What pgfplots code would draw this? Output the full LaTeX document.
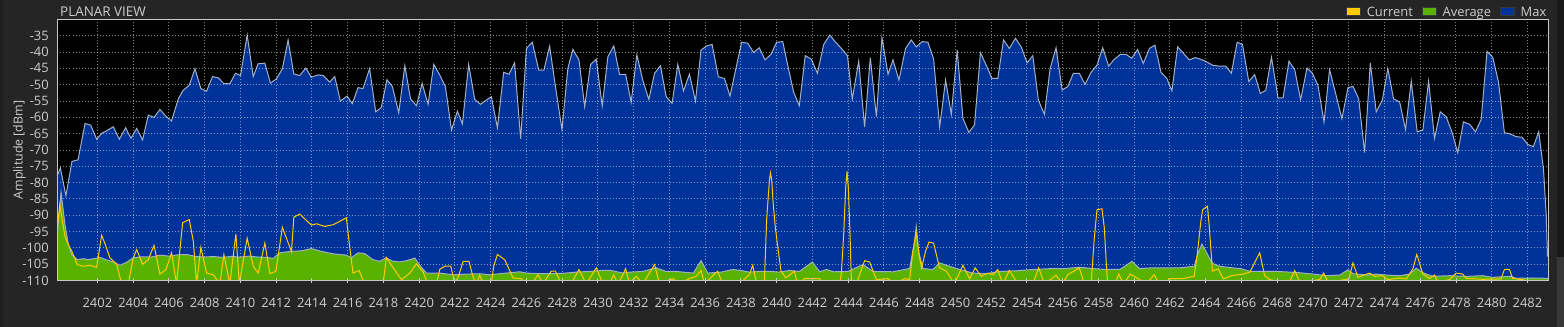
\documentclass[border=0pt]{standalone}
\usepackage{pgfplots}
\usepackage{pgfplotstable}
\pgfplotsset{compat=1.18}
\usepackage{fontspec}
\setmainfont{Open Sans}
\definecolor{bgc}{RGB}{37,37,37}
\definecolor{maxblue}{RGB}{0,51,153}
\definecolor{avggreen}{RGB}{90,178,0}
\definecolor{curyellow}{RGB}{255,204,0}
\definecolor{outl}{RGB}{165,175,195}
\definecolor{txt}{RGB}{205,205,205}
\definecolor{framec}{RGB}{200,200,200}

\pgfplotsset{
  myaxis/.style={
    at={(57.5bp,46.4bp)}, anchor=south west,
    scale only axis, width=1490.8bp, height=261.2bp,
    xmin=2399.77, xmax=2483.17, ymin=-110, ymax=-30,
    xtick={2402,2404,...,2482},
    ytick={-110,-105,...,-35},
  },
  legbox/.style={legend image code/.code={
    \filldraw[draw=black!55!gray, fill=#1, line width=0.8bp] (0bp,-3.4bp) rectangle (14bp,5.2bp);
    \path (18bp,0bp);}},
}

\pgfplotstableread{
f v
2399.60 -120
2399.60 -80
2399.93 -75.5
2400.24 -84.0
2400.58 -73.5
2400.92 -73.0
2401.31 -61.9
2401.63 -62.4
2401.96 -66.7
2402.24 -64.9
2402.52 -64.1
2402.89 -62.9
2403.23 -66.7
2403.58 -63.2
2403.88 -66.4
2404.20 -63.4
2404.53 -66.9
2404.85 -59.3
2405.17 -60.0
2405.50 -57.6
2405.82 -59.6
2406.15 -61.1
2406.53 -54.3
2406.80 -51.7
2407.14 -50.2
2407.46 -45.1
2407.79 -51.2
2408.11 -52.0
2408.44 -47.5
2408.76 -47.9
2409.08 -49.7
2409.41 -49.7
2409.73 -46.5
2410.01 -47.2
2410.38 -34.8
2410.72 -47.5
2410.99 -43.6
2411.37 -43.4
2411.68 -49.5
2412.02 -48.2
2412.35 -45.1
2412.67 -36.3
2412.99 -46.7
2413.32 -47.2
2413.66 -44.9
2413.97 -47.7
2414.35 -47.0
2414.63 -47.2
2415.00 -49.2
2415.28 -47.5
2415.59 -55.0
2415.97 -53.5
2416.26 -55.8
2416.58 -50.9
2416.86 -51.2
2417.23 -45.1
2417.57 -58.3
2417.88 -57.0
2418.20 -48.5
2418.50 -50.5
2418.86 -58.6
2419.20 -44.2
2419.52 -54.4
2419.85 -56.4
2420.17 -49.6
2420.50 -56.0
2420.82 -43.8
2421.15 -47.0
2421.47 -50.6
2421.81 -63.9
2422.14 -58.1
2422.42 -62.0
2422.77 -43.8
2423.11 -54.5
2423.43 -56.0
2423.76 -54.7
2424.04 -53.7
2424.38 -63.2
2424.73 -46.2
2425.03 -46.8
2425.34 -43.3
2425.68 -66.6
2426.00 -38.9
2426.33 -37.0
2426.69 -45.5
2426.98 -45.5
2427.30 -38.2
2427.64 -51.1
2427.99 -63.7
2428.32 -45.0
2428.60 -39.2
2428.94 -42.4
2429.26 -56.7
2429.59 -43.8
2429.91 -42.2
2430.24 -56.5
2430.56 -41.4
2430.89 -38.1
2431.21 -46.8
2431.55 -46.8
2431.86 -55.4
2432.18 -40.9
2432.51 -48.6
2432.85 -54.5
2433.17 -46.5
2433.50 -44.2
2433.82 -53.7
2434.15 -55.7
2434.47 -43.8
2434.79 -51.9
2435.12 -46.8
2435.46 -55.0
2435.77 -39.4
2436.09 -38.1
2436.39 -37.7
2436.74 -47.6
2437.08 -48.1
2437.39 -53.5
2437.73 -44.8
2438.04 -37.0
2438.38 -37.3
2438.71 -40.1
2439.03 -38.7
2439.35 -42.4
2439.68 -40.7
2440.00 -37.0
2440.34 -36.8
2440.65 -44.8
2440.95 -52.3
2441.27 -56.4
2441.60 -41.1
2441.94 -42.2
2442.28 -46.5
2442.63 -37.7
2442.97 -34.8
2443.30 -37.0
2443.62 -38.9
2443.96 -41.1
2444.23 -54.4
2444.59 -42.8
2444.92 -62.9
2445.24 -41.7
2445.58 -59.8
2445.89 -35.6
2446.23 -46.8
2446.51 -42.4
2446.84 -48.6
2447.21 -38.9
2447.53 -36.3
2447.81 -38.4
2448.15 -36.8
2448.46 -37.0
2448.78 -42.1
2449.12 -62.9
2449.45 -48.6
2449.77 -59.1
2450.10 -39.4
2450.42 -60.3
2450.75 -64.6
2451.07 -62.3
2451.40 -40.2
2451.72 -44.0
2452.04 -48.1
2452.37 -48.1
2452.69 -36.3
2453.02 -38.9
2453.36 -35.8
2453.68 -38.4
2454.01 -43.3
2454.33 -41.1
2454.64 -54.7
2454.98 -59.1
2455.30 -45.0
2455.63 -38.7
2455.97 -51.6
2456.28 -50.6
2456.60 -46.5
2456.93 -46.5
2457.25 -49.9
2457.59 -46.2
2457.92 -44.0
2458.24 -38.7
2458.57 -44.3
2458.89 -42.2
2459.23 -40.7
2459.54 -40.7
2459.86 -41.9
2460.19 -39.2
2460.51 -43.5
2460.85 -38.9
2461.16 -37.9
2461.50 -46.2
2461.83 -48.1
2462.11 -51.9
2462.43 -38.4
2462.76 -40.4
2463.08 -42.4
2463.42 -41.7
2463.73 -42.2
2464.05 -43.0
2464.38 -44.0
2464.70 -44.3
2465.12 -44.3
2465.44 -46.5
2465.76 -37.0
2466.06 -37.7
2466.41 -49.0
2466.74 -46.9
2467.06 -52.7
2467.36 -51.7
2467.68 -41.6
2468.05 -54.1
2468.33 -54.0
2468.66 -42.8
2468.98 -45.4
2469.31 -54.6
2469.67 -44.9
2469.97 -46.5
2470.28 -50.2
2470.62 -61.4
2470.93 -45.4
2471.27 -52.7
2471.62 -60.4
2471.96 -50.9
2472.24 -50.5
2472.56 -54.3
2472.89 -70.8
2473.21 -43.4
2473.54 -58.3
2473.88 -54.8
2474.19 -45.1
2474.51 -54.3
2474.85 -55.3
2475.18 -63.7
2475.50 -48.9
2475.83 -64.4
2476.15 -63.9
2476.47 -48.9
2476.80 -66.4
2477.12 -58.3
2477.45 -59.8
2477.77 -64.4
2478.10 -70.8
2478.42 -61.4
2478.76 -62.1
2479.09 -64.4
2479.41 -60.7
2479.74 -39.8
2480.06 -41.6
2480.38 -49.2
2480.71 -64.7
2481.05 -65.1
2481.36 -65.9
2481.70 -66.1
2482.02 -68.3
2482.33 -69.0
2482.63 -64.4
2482.90 -76.0
2483.05 -90.0
2483.12 -102.5
2483.40 -102.5
2483.40 -120
}\maxdata

\pgfplotstableread{
f v
2399.60 -120
2399.60 -96
2399.77 -95
2399.97 -83.0
2400.19 -92.9
2400.38 -99.0
2400.57 -102.0
2400.88 -103.6
2401.22 -103.3
2401.50 -103.6
2401.78 -103.3
2402.15 -102.9
2402.48 -103.6
2402.80 -104.1
2403.27 -105.3
2403.60 -104.5
2404.01 -103.0
2404.50 -102.7
2405.00 -102.8
2405.50 -102.2
2406.00 -102.5
2406.50 -102.1
2406.99 -102.0
2407.50 -102.6
2408.00 -102.8
2408.48 -102.6
2409.00 -102.9
2409.50 -102.6
2409.97 -102.8
2410.50 -102.5
2411.00 -102.8
2411.50 -102.9
2411.83 -103.2
2412.20 -101.5
2412.86 -101.0
2413.40 -100.9
2413.97 -100.2
2414.50 -101.0
2415.18 -101.8
2415.93 -102.2
2416.21 -103.0
2416.58 -101.5
2416.95 -101.7
2417.42 -103.6
2417.79 -104.1
2418.16 -103.0
2418.50 -104.0
2418.91 -104.3
2419.30 -103.9
2419.76 -103.1
2420.00 -105.1
2420.41 -107.7
2421.15 -107.7
2421.90 -108.2
2422.70 -108.0
2423.39 -107.9
2423.95 -108.2
2424.69 -107.8
2425.62 -107.3
2426.00 -107.7
2426.80 -107.9
2428.00 -107.8
2428.79 -107.4
2429.50 -107.2
2430.28 -106.9
2430.74 -106.9
2431.40 -107.7
2431.77 -107.4
2432.51 -107.2
2433.26 -106.1
2433.82 -107.2
2434.38 -107.2
2435.34 -107.7
2435.77 -103.9
2436.15 -107.7
2436.90 -107.4
2437.54 -106.6
2438.00 -106.9
2438.47 -107.4
2439.00 -107.2
2439.70 -107.2
2440.10 -107.4
2440.71 -106.9
2441.27 -107.2
2442.00 -104.3
2442.41 -107.3
2442.78 -106.6
2443.20 -107.3
2443.99 -107.2
2444.83 -105.1
2445.39 -107.2
2446.51 -107.3
2447.44 -106.3
2447.72 -98.0
2447.81 -93.5
2447.94 -101.0
2448.18 -106.3
2448.74 -106.6
2449.12 -104.6
2449.67 -105.6
2450.23 -106.6
2450.98 -107.7
2451.70 -107.9
2452.47 -107.2
2453.40 -107.0
2454.33 -106.6
2455.45 -106.3
2456.20 -106.3
2456.93 -105.9
2457.68 -106.3
2458.40 -106.6
2459.20 -106.6
2459.88 -104.1
2460.29 -106.3
2461.00 -106.1
2461.78 -106.1
2462.52 -106.1
2463.36 -105.6
2463.55 -102.0
2463.79 -98.8
2464.04 -101.3
2464.29 -104.0
2464.42 -104.8
2464.79 -105.6
2465.20 -105.9
2466.00 -106.4
2466.50 -107.2
2467.40 -107.2
2468.00 -107.2
2468.70 -107.4
2469.26 -107.6
2470.00 -108.0
2470.75 -108.5
2471.50 -108.3
2471.96 -106.7
2472.25 -107.9
2473.00 -108.3
2473.54 -108.0
2474.10 -108.3
2474.85 -108.5
2475.40 -108.0
2475.78 -106.2
2476.15 -107.6
2476.70 -108.7
2477.65 -108.5
2478.60 -108.7
2479.50 -108.5
2480.06 -109.0
2481.08 -108.7
2481.36 -109.3
2482.30 -109.2
2483.04 -109.3
2483.40 -109.3
2483.40 -120
}\avgdata

\pgfplotstableread{
f v
2399.77 -93.0
2399.90 -86.7
2400.05 -92.0
2400.19 -96.4
2400.38 -99.0
2400.57 -101.0
2400.88 -105.1
2401.22 -105.6
2401.59 -105.3
2401.96 -106.0
2402.24 -96.1
2402.48 -99.5
2402.70 -103.0
2403.08 -105.0
2403.36 -111
2403.73 -111
2404.01 -103.0
2404.20 -100.5
2404.53 -105.0
2404.85 -103.6
2405.17 -99.2
2405.50 -108.0
2405.84 -106.6
2406.15 -101.5
2406.43 -111
2406.77 -92.3
2407.14 -91.3
2407.37 -98.0
2407.55 -111
2407.79 -99.8
2408.11 -107.7
2408.48 -108.2
2408.85 -111
2409.08 -102.0
2409.41 -111
2409.75 -95.7
2409.94 -111
2410.38 -97.0
2410.72 -105.6
2411.00 -107.7
2411.37 -98.5
2411.65 -107.9
2411.99 -107.1
2412.35 -93.7
2412.63 -97.8
2412.86 -101.1
2412.99 -90.6
2413.32 -89.6
2413.97 -93.0
2414.26 -92.6
2414.72 -93.4
2415.18 -92.9
2415.93 -90.8
2416.08 -98.0
2416.30 -107.7
2416.64 -106.9
2416.95 -111
2417.70 -111
2418.00 -110.5
2418.16 -102.9
2418.36 -104.6
2419.01 -109.7
2419.48 -107.7
2419.85 -104.9
2420.22 -107.3
2420.41 -110.0
2420.97 -111
2421.15 -106.6
2421.43 -105.6
2421.77 -105.6
2422.00 -111
2422.23 -108.2
2422.46 -104.1
2422.79 -104.1
2422.98 -108.2
2423.17 -111
2423.39 -108.4
2423.61 -111
2424.04 -111
2424.17 -105.6
2424.38 -102.0
2424.79 -103.6
2425.25 -109.2
2425.72 -109.4
2426.00 -111
2426.30 -111
2426.65 -108.2
2426.93 -111
2427.39 -107.1
2427.62 -107.1
2427.95 -111
2428.50 -111
2428.94 -106.6
2429.35 -111
2429.91 -106.1
2430.28 -111
2430.65 -111
2430.88 -108.2
2431.12 -111
2431.40 -108.2
2431.55 -106.3
2431.77 -111
2432.14 -108.7
2432.51 -111
2433.17 -105.1
2433.45 -111
2434.19 -109.4
2434.56 -111
2435.12 -109.4
2435.49 -108.7
2435.77 -106.9
2435.96 -111
2436.70 -107.1
2436.98 -111
2437.91 -111
2438.47 -108.2
2438.66 -105.3
2438.88 -111
2439.31 -111
2439.44 -91.3
2439.59 -79.6
2439.65 -77.0
2439.72 -79.0
2439.81 -86.7
2439.93 -93.9
2440.06 -99.5
2440.24 -107.1
2440.52 -109.2
2440.99 -107.1
2441.17 -111
2441.57 -109.4
2442.41 -109.4
2442.60 -111
2443.53 -111
2443.62 -107.7
2443.75 -95.9
2443.86 -81.6
2443.94 -76.5
2444.01 -81.6
2444.09 -93.4
2444.18 -109.7
2444.46 -111
2444.92 -103.9
2445.20 -104.3
2445.58 -109.7
2446.23 -109.4
2446.60 -111
2447.16 -109.4
2447.44 -109.7
2447.62 -101.0
2447.81 -95.1
2447.96 -102.0
2448.11 -106.1
2448.33 -101.0
2448.52 -98.2
2448.78 -98.5
2448.96 -102.6
2449.11 -106.1
2449.49 -107.1
2449.95 -111
2450.42 -105.3
2450.79 -109.4
2451.11 -106.1
2451.44 -108.7
2451.81 -107.7
2452.10 -108.2
2452.37 -106.6
2452.65 -111
2453.02 -106.9
2453.49 -111
2454.33 -111
2454.66 -106.1
2454.98 -111
2455.63 -108.4
2456.00 -111
2456.28 -108.2
2456.93 -106.1
2457.21 -111
2457.59 -111
2457.77 -96.9
2457.92 -88.3
2458.20 -88.0
2458.33 -93.9
2458.46 -106.6
2458.52 -111
2458.95 -111
2459.13 -108.0
2459.41 -111
2459.78 -108.0
2460.16 -109.2
2460.66 -111
2461.12 -108.2
2461.40 -111
2461.78 -111
2461.96 -109.4
2462.71 -109.4
2463.36 -108.7
2463.55 -101.0
2463.73 -91.8
2463.83 -88.3
2464.10 -87.2
2464.20 -93.4
2464.38 -107.1
2464.70 -106.4
2464.98 -109.5
2465.44 -108.5
2466.09 -108.0
2466.47 -107.4
2467.02 -101.5
2467.30 -108.5
2467.58 -109.7
2468.14 -110.3
2468.70 -110.3
2468.98 -106.9
2469.26 -110.5
2470.38 -109.7
2470.60 -107.7
2470.84 -110.5
2472.01 -109.5
2472.24 -104.6
2472.52 -109.0
2473.17 -107.7
2473.45 -108.7
2473.91 -108.5
2474.19 -109.7
2474.85 -109.2
2475.22 -109.5
2475.59 -106.4
2475.81 -102.0
2476.00 -105.4
2476.15 -108.0
2476.52 -109.3
2476.80 -108.3
2476.99 -110.5
2477.64 -109.7
2478.01 -107.7
2478.38 -108.0
2478.57 -109.3
2479.50 -109.6
2480.52 -109.5
2480.71 -106.6
2480.99 -106.6
2481.17 -109.3
2481.70 -109.7
2482.29 -110.5
2483.20 -110.5
}\curdata

\begin{document}
\begin{tikzpicture}
\fill[bgc] (0bp,0bp) rectangle (1564bp,327bp);
\fill[black!88] (0bp,0bp) rectangle (3bp,327bp);
\fill[black!90] (1556.7bp,70bp) rectangle (1564bp,327bp);
\fill[black!78] (1556.7bp,0bp) rectangle (1564bp,70bp);
\fill[black] (57.5bp,46.4bp) rectangle (1548.3bp,307.6bp);
% layer 1: Max area
\begin{axis}[myaxis, axis lines=none, xtick=\empty, ytick=\empty]
\addplot[fill=maxblue, draw=outl, line width=1bp] table[x=f,y=v] {\maxdata};
\end{axis}
% layer 2: grid, Average, Current
\begin{axis}[myaxis,
  axis line style={draw=none},
  tick style={draw=none},
  xticklabels={}, yticklabels={},
  grid=major,
  grid style={white, opacity=0.5, line width=1bp, dash pattern=on 1bp off 2bp},
]
\addplot[fill=avggreen, draw=outl, line width=1bp] table[x=f,y=v] {\avgdata};
\addplot[curyellow, line width=1bp] table[x=f,y=v] {\curdata};
\end{axis}
% layer 3: frame, ticks, labels, legend
\begin{axis}[myaxis,
  clip=false,
  yticklabels={-110,-105,-100,-95,-90,-85,-80,-75,-70,-65,-60,-55,-50,-45,-40,-35},
  /pgf/number format/1000 sep={},
  /pgf/number format/assume math mode=true,
  axis line style={framec, line width=0.9bp},
  xtick pos=bottom,
  xtick style={framec, line width=0.9bp},
  ytick style={draw=none},
  tick align=center,
  major tick length=4.5bp,
  tick label style={font=\fontsize{13}{15}\selectfont, text=txt},
  xticklabel shift=12bp,
  yticklabel shift=3bp,
  ylabel={Amplitude [dBm]},
  ylabel style={at={(axis description cs:-0.0255,0.5)}, anchor=center, font=\fontsize{12.5}{14}\selectfont, text=txt},
  title={PLANAR VIEW},
  every axis title shift=0pt,
  title style={at={(axis description cs:0,1)}, anchor=base west, inner sep=0pt, xshift=2.5bp, yshift=2.7bp, font=\fontsize{13.5}{15}\selectfont, text=txt},
  legend columns=3,
  legend style={at={(axis description cs:1,1)}, anchor=south east, draw=none, fill=none, inner sep=0pt, outer sep=0pt, yshift=-0.4bp, font=\fontsize{13}{15}\selectfont, text=txt, /tikz/every even column/.append style={column sep=7bp}},
]
\addlegendimage{legbox=curyellow}
\addlegendentry{Current}
\addlegendimage{legbox=avggreen}
\addlegendentry{Average}
\addlegendimage{legbox=maxblue}
\addlegendentry{Max}
\end{axis}
\pgfresetboundingbox
\useasboundingbox (0bp,0bp) rectangle (1564bp,327bp);
\end{tikzpicture}
\end{document}
